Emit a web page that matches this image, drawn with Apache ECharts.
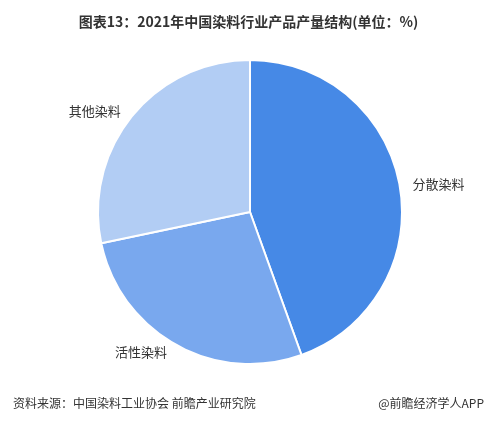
<!DOCTYPE html>
<html>
<head>
<meta charset="utf-8">
<script src="https://cdn.jsdelivr.net/npm/echarts@6/dist/echarts.min.js"></script>
<style>
html,body{margin:0;padding:0;background:#fff;}
#main{width:497px;height:422px;}
</style>
</head>
<body>
<div id="main"></div>
<script>
// 2021年中国染料行业产品产量结构
var names = ['分散染料', '活性染料', '其他染料'];
var values = [44.5, 27.2, 28.3];
var colors = ['#4689e6', '#79a8ee', '#b2cdf4'];

var chart = echarts.init(document.getElementById('main'));
var font = '"Noto Sans CJK SC", sans-serif';

chart.setOption({
    title: [{
        text: '图表13：2021年中国染料行业产品产量结构(单位：%)',
        left: 'center',
        top: 10,
        textStyle: {fontSize: 14, fontWeight: 'bold', color: '#333', fontFamily: font}
    }, {
        text: '资料来源：中国染料工业协会 前瞻产业研究院',
        left: 8,
        bottom: 8,
        textStyle: {fontSize: 12, fontWeight: 'normal', color: '#333', fontFamily: font}
    }, {
        text: '@前瞻经济学人APP',
        right: 8,
        bottom: 8,
        textStyle: {fontSize: 12, fontWeight: 'normal', color: '#333', fontFamily: font}
    }],
    series: [{
        type: 'pie',
        center: [250, 212],
        radius: [0, 152],
        startAngle: 90,
        clockwise: true,
        data: names.map(function (n, i) {
            return {name: n, value: values[i], itemStyle: {color: colors[i]}};
        }),
        itemStyle: {borderColor: '#fff', borderWidth: 2},
        label: {show: true, position: 'outside', color: '#333', fontSize: 13, fontFamily: font},
        labelLine: {show: false, length: 8, length2: 0},
        emphasis: {disabled: true}
    }]
});
</script>
</body>
</html>
